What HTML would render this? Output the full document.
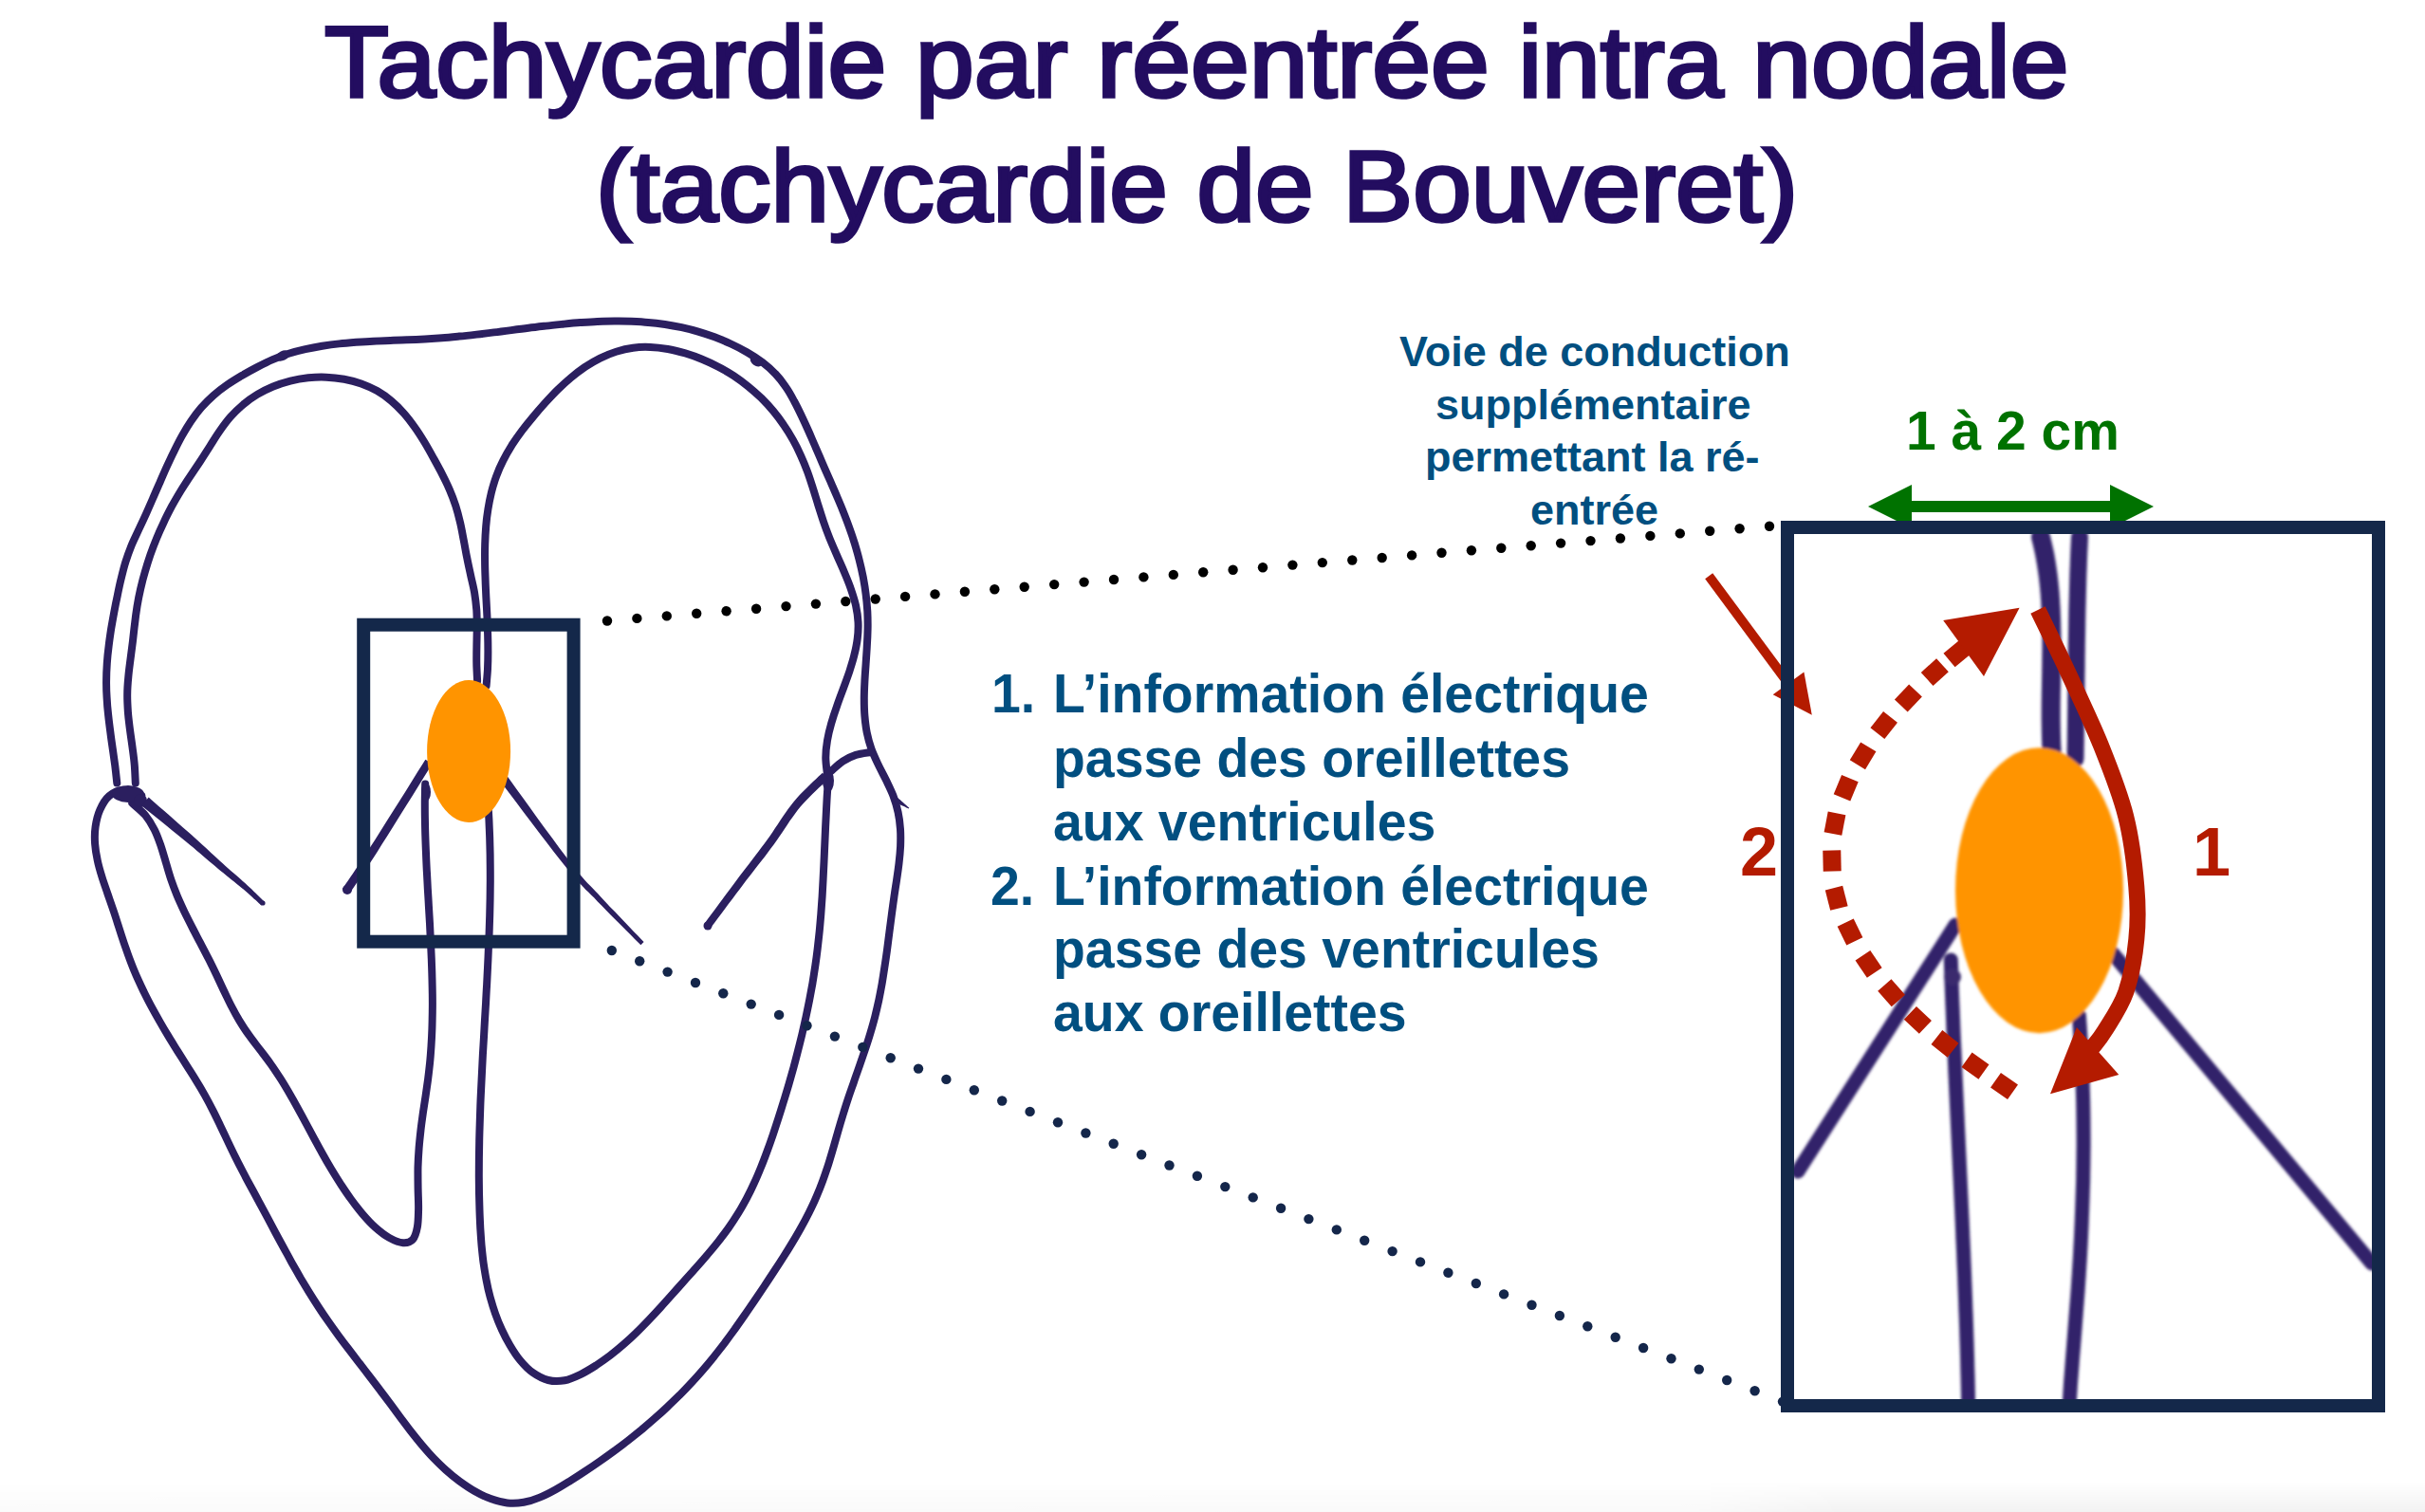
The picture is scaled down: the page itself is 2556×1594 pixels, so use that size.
<!DOCTYPE html>
<html><head><meta charset="utf-8">
<style>
html,body{margin:0;padding:0;background:#fff;}
body{width:2556px;height:1594px;position:relative;overflow:hidden;font-family:"Liberation Sans",sans-serif;font-weight:bold;}
.t{position:absolute;white-space:nowrap;line-height:1;transform-origin:0 0;}
.ttl{color:#230d60;font-size:106px;font-weight:normal;-webkit-text-stroke:3.6px #230d60;}
.lbl{color:#014f80;font-size:45px;}
.lst{color:#014f80;font-size:58px;transform:scaleX(0.955);}
.red{color:#b41b00;font-size:72px;}
.grn{color:#007200;font-size:57px;}
svg{position:absolute;left:0;top:0;}
</style></head>
<body>
<svg width="2556" height="1594" viewBox="0 0 2556 1594">
<defs><filter id="bl" x="-20%" y="-20%" width="140%" height="140%"><feGaussianBlur stdDeviation="1.8"/></filter>
<linearGradient id="bg" x1="0" y1="0" x2="0" y2="1"><stop offset="0" stop-color="#000" stop-opacity="0"/><stop offset="1" stop-color="#000" stop-opacity="0.05"/></linearGradient><linearGradient id="hm" x1="0" y1="0" x2="1" y2="0"><stop offset="0" stop-color="#fff" stop-opacity="0.35"/><stop offset="0.7" stop-color="#fff" stop-opacity="0.45"/><stop offset="0.76" stop-color="#fff" stop-opacity="1"/><stop offset="1" stop-color="#fff" stop-opacity="1"/></linearGradient><mask id="mk"><rect x="0" y="1500" width="2556" height="94" fill="url(#hm)"/></mask></defs>
<rect x="0" y="1562" width="2556" height="32" fill="url(#bg)" mask="url(#mk)"/>
<g fill="none" stroke="#2b1f5f" stroke-width="8.0" stroke-linecap="round" stroke-linejoin="round"><path d="M123.3 825.5 C123.0 822.5 122.0 813.5 121.3 807.5 C120.5 801.6 119.6 795.6 118.8 789.6 C117.9 783.5 117.0 777.5 116.3 771.5 C115.5 765.5 114.7 759.5 114.1 753.5 C113.4 747.5 112.9 741.5 112.6 735.5 C112.2 729.4 112.0 723.4 112.1 717.4 C112.1 711.4 112.4 705.3 112.8 699.3 C113.2 693.3 113.8 687.2 114.6 681.2 C115.3 675.2 116.2 669.2 117.1 663.2 C118.1 657.2 119.2 651.2 120.3 645.2 C121.4 639.2 122.6 633.2 123.9 627.3 C125.1 621.4 126.3 615.5 127.8 609.6 C129.2 603.7 130.6 597.9 132.4 592.2 C134.2 586.4 136.3 580.7 138.5 575.2 C140.8 569.6 143.6 564.1 146.1 558.6 C148.7 553.1 151.3 547.6 153.8 542.1 C156.3 536.5 158.7 531.0 161.1 525.5 C163.6 519.9 165.9 514.3 168.4 508.8 C170.8 503.3 173.2 497.7 175.7 492.2 C178.2 486.7 180.8 481.1 183.5 475.7 C186.2 470.2 188.9 464.7 191.9 459.4 C194.8 454.2 197.9 448.9 201.3 443.9 C204.7 439.0 208.3 434.1 212.2 429.6 C216.2 425.1 220.4 420.9 224.9 416.9 C229.5 412.9 234.3 409.3 239.3 405.8 C244.3 402.3 249.6 399.1 254.8 396.0 C260.1 392.9 265.5 389.9 270.9 387.1 C276.3 384.3 281.7 381.5 287.3 379.1 C292.9 376.8 298.6 374.6 304.3 372.8 C310.1 371.0 316.1 369.5 321.9 368.2 C327.8 366.9 333.7 365.8 339.6 364.8 C345.6 363.9 351.5 363.1 357.5 362.4 C363.4 361.8 369.4 361.3 375.4 360.8 C381.3 360.4 387.3 360.0 393.3 359.7 C399.4 359.4 405.4 359.2 411.4 359.0 C417.4 358.7 423.5 358.5 429.5 358.3 C435.6 358.0 441.6 357.8 447.7 357.5 C453.7 357.1 459.8 356.7 465.9 356.3 C472.0 355.8 478.0 355.2 484.1 354.6 C490.2 354.0 496.3 353.3 502.4 352.6 C508.5 351.9 514.5 351.2 520.6 350.4 C526.7 349.7 532.8 348.9 538.9 348.1 C545.0 347.3 551.1 346.5 557.1 345.8 C563.2 345.0 569.3 344.3 575.3 343.6 C581.4 342.9 587.5 342.3 593.5 341.7 C599.6 341.1 605.6 340.5 611.6 340.1 C617.7 339.7 623.7 339.3 629.7 339.0 C635.7 338.8 641.7 338.6 647.6 338.6 C653.6 338.5 659.6 338.6 665.5 338.8 C671.5 339.1 677.4 339.4 683.3 340.0 C689.2 340.5 695.1 341.2 701.0 342.0 C706.8 342.9 712.7 344.0 718.5 345.2 C724.3 346.5 730.1 347.9 735.9 349.6 C741.7 351.3 747.4 353.2 753.2 355.3 C758.9 357.5 764.6 359.8 770.3 362.5 C775.9 365.1 781.7 368.0 787.2 371.2 C792.7 374.4 798.3 377.9 803.3 381.6 C808.2 385.4 813.0 389.5 817.1 393.9 C821.3 398.2 824.8 402.9 828.1 407.8 C831.5 412.6 834.3 417.7 837.1 423.0 C840.0 428.2 842.5 433.5 845.1 439.0 C847.7 444.4 850.2 449.9 852.7 455.5 C855.1 461.0 857.5 466.7 860.0 472.3 C862.4 477.9 864.8 483.5 867.2 489.1 C869.6 494.7 872.1 500.3 874.6 505.9 C877.0 511.5 879.5 517.0 881.8 522.6 C884.2 528.2 886.6 533.7 888.8 539.4 C891.0 545.0 893.2 550.6 895.2 556.3 C897.3 562.0 899.2 567.7 901.0 573.5 C902.7 579.2 904.4 585.0 905.8 590.9 C907.3 596.7 908.6 602.6 909.8 608.5 C910.9 614.4 911.9 620.4 912.6 626.4 C913.4 632.4 913.9 638.4 914.3 644.5 C914.6 650.6 914.7 656.7 914.6 662.8 C914.5 669.0 914.2 675.1 913.8 681.3 C913.5 687.5 913.0 693.7 912.6 699.9 C912.2 706.0 911.7 712.2 911.4 718.3 C911.1 724.5 910.8 730.6 910.8 736.6 C910.8 742.7 910.9 748.7 911.4 754.7 C911.9 760.6 912.6 766.5 913.7 772.3 C914.9 778.1 916.4 783.8 918.4 789.4 C920.4 795.0 923.0 800.4 925.6 805.9 C928.2 811.4 931.2 816.8 933.9 822.3 C936.5 827.8 939.3 833.3 941.5 839.0 C943.6 844.7 945.4 850.6 946.6 856.4 C947.9 862.3 948.6 868.3 949.0 874.3 C949.4 880.2 949.3 886.2 949.1 892.2 C948.8 898.2 948.2 904.2 947.5 910.2 C946.8 916.3 945.9 922.3 945.0 928.3 C944.1 934.4 943.1 940.4 942.3 946.4 C941.4 952.5 940.6 958.5 939.8 964.6 C939.0 970.6 938.2 976.6 937.4 982.7 C936.6 988.7 935.9 994.7 935.1 1000.7 C934.3 1006.8 933.4 1012.8 932.5 1018.7 C931.6 1024.7 930.7 1030.7 929.7 1036.6 C928.6 1042.6 927.5 1048.5 926.3 1054.4 C925.0 1060.3 923.7 1066.1 922.2 1071.9 C920.7 1077.8 919.0 1083.6 917.3 1089.3 C915.6 1095.1 913.7 1100.9 911.8 1106.6 C909.9 1112.3 907.9 1118.0 905.9 1123.8 C903.9 1129.5 901.8 1135.2 899.9 1140.9 C897.9 1146.7 895.8 1152.4 893.9 1158.2 C892.0 1163.9 890.2 1169.7 888.4 1175.6 C886.6 1181.4 884.9 1187.2 883.2 1193.1 C881.6 1198.9 879.9 1204.8 878.2 1210.6 C876.5 1216.4 874.8 1222.2 873.0 1228.0 C871.1 1233.7 869.2 1239.4 867.1 1245.1 C865.1 1250.7 862.8 1256.3 860.4 1261.8 C858.1 1267.4 855.5 1272.8 852.8 1278.2 C850.1 1283.6 847.3 1288.9 844.3 1294.2 C841.4 1299.5 838.3 1304.7 835.2 1309.9 C832.1 1315.1 828.9 1320.3 825.6 1325.4 C822.3 1330.6 819.0 1335.7 815.6 1340.8 C812.3 1345.9 808.9 1351.0 805.5 1356.1 C802.1 1361.1 798.7 1366.2 795.3 1371.3 C791.8 1376.4 788.4 1381.4 784.9 1386.4 C781.4 1391.4 777.9 1396.4 774.4 1401.4 C770.8 1406.3 767.2 1411.2 763.6 1416.1 C759.9 1420.9 756.2 1425.7 752.4 1430.4 C748.6 1435.1 744.8 1439.7 740.8 1444.3 C736.9 1448.8 732.9 1453.3 728.8 1457.7 C724.7 1462.1 720.6 1466.4 716.4 1470.7 C712.1 1474.9 707.8 1479.1 703.4 1483.2 C699.1 1487.3 694.6 1491.4 690.1 1495.3 C685.6 1499.3 681.0 1503.2 676.4 1507.1 C671.7 1510.9 667.0 1514.7 662.2 1518.5 C657.4 1522.2 652.5 1525.9 647.6 1529.5 C642.7 1533.1 637.7 1536.7 632.6 1540.2 C627.6 1543.7 622.5 1547.2 617.3 1550.6 C612.1 1554.1 606.8 1557.5 601.5 1560.8 C596.2 1564.1 590.9 1567.5 585.4 1570.5 C580.0 1573.5 574.5 1576.4 568.9 1578.6 C563.4 1580.9 557.7 1582.8 552.0 1583.8 C546.3 1584.7 540.5 1585.0 534.7 1584.4 C528.9 1583.8 523.0 1582.1 517.3 1580.1 C511.5 1578.0 505.7 1575.1 500.2 1572.0 C494.7 1568.9 489.4 1565.2 484.3 1561.5 C479.2 1557.8 474.5 1553.8 469.9 1549.7 C465.3 1545.6 461.0 1541.3 456.8 1537.0 C452.6 1532.6 448.6 1528.0 444.7 1523.4 C440.8 1518.8 437.0 1514.0 433.3 1509.3 C429.6 1504.5 426.0 1499.6 422.4 1494.8 C418.8 1490.0 415.2 1485.1 411.6 1480.2 C408.0 1475.3 404.4 1470.5 400.7 1465.7 C397.1 1460.8 393.4 1456.0 389.7 1451.2 C386.0 1446.4 382.3 1441.6 378.6 1436.8 C374.9 1432.0 371.2 1427.2 367.5 1422.3 C363.8 1417.5 360.2 1412.7 356.6 1407.8 C353.0 1402.9 349.5 1398.0 346.0 1393.0 C342.5 1388.1 339.1 1383.1 335.8 1378.0 C332.5 1373.0 329.2 1367.9 326.0 1362.7 C322.9 1357.6 319.8 1352.4 316.7 1347.2 C313.7 1341.9 310.7 1336.7 307.7 1331.4 C304.8 1326.1 301.9 1320.8 299.0 1315.5 C296.1 1310.2 293.2 1304.8 290.3 1299.5 C287.5 1294.1 284.7 1288.8 281.8 1283.4 C279.0 1278.1 276.1 1272.8 273.2 1267.5 C270.4 1262.1 267.5 1256.8 264.6 1251.5 C261.7 1246.2 258.9 1240.9 256.1 1235.5 C253.3 1230.2 250.5 1224.8 247.8 1219.3 C245.1 1213.9 242.5 1208.4 239.9 1202.9 C237.3 1197.4 234.8 1191.9 232.1 1186.4 C229.5 1181.0 226.9 1175.5 224.1 1170.1 C221.4 1164.7 218.6 1159.4 215.6 1154.1 C212.7 1148.9 209.6 1143.7 206.4 1138.6 C203.3 1133.5 200.0 1128.4 196.8 1123.3 C193.6 1118.2 190.3 1113.1 187.1 1108.0 C183.9 1102.8 180.6 1097.6 177.5 1092.4 C174.3 1087.2 171.2 1081.9 168.2 1076.6 C165.2 1071.3 162.2 1066.0 159.3 1060.6 C156.4 1055.3 153.7 1049.8 151.0 1044.4 C148.4 1038.9 145.8 1033.4 143.4 1027.9 C141.0 1022.4 138.8 1016.8 136.7 1011.2 C134.6 1005.6 132.7 999.9 130.7 994.2 C128.8 988.5 127.0 982.8 125.1 977.1 C123.3 971.4 121.5 965.6 119.5 959.8 C117.6 954.0 115.5 948.2 113.5 942.4 C111.6 936.6 109.4 930.8 107.6 924.9 C105.8 919.1 104.0 913.2 102.8 907.3 C101.5 901.4 100.5 895.5 100.1 889.5 C99.7 883.5 99.7 877.5 100.6 871.5 C101.5 865.5 103.0 859.0 105.4 853.6 C107.8 848.2 111.0 842.6 115.1 839.1 C119.3 835.6 124.5 832.7 130.2 832.7 C135.9 832.6 146.1 837.8 149.3 838.8"/><path d="M142.8 825.5 C142.6 822.4 142.3 813.1 141.8 806.9 C141.3 800.6 140.4 794.4 139.6 788.2 C138.8 782.0 137.8 775.8 137.0 769.6 C136.2 763.4 135.4 757.2 134.9 750.9 C134.5 744.7 134.1 738.5 134.2 732.3 C134.2 726.1 134.7 719.9 135.3 713.7 C135.8 707.5 136.7 701.3 137.5 695.1 C138.3 688.9 139.1 682.7 139.9 676.5 C140.6 670.3 141.2 664.1 142.0 657.9 C142.7 651.7 143.5 645.5 144.5 639.3 C145.5 633.2 146.7 627.1 148.1 621.0 C149.5 614.9 151.0 608.9 152.8 602.9 C154.5 596.9 156.4 590.9 158.4 585.0 C160.5 579.1 162.7 573.3 165.1 567.5 C167.4 561.7 170.0 556.0 172.7 550.4 C175.3 544.8 178.2 539.2 181.1 533.7 C184.1 528.2 187.3 522.8 190.5 517.5 C193.8 512.2 197.2 507.0 200.7 501.8 C204.1 496.6 207.7 491.4 211.1 486.2 C214.6 481.0 217.9 475.6 221.3 470.3 C224.7 465.0 227.9 459.6 231.5 454.5 C235.1 449.4 238.7 444.3 242.8 439.7 C246.9 435.1 251.3 430.7 256.1 426.7 C260.8 422.7 265.8 419.1 271.1 415.9 C276.4 412.7 282.1 409.9 287.9 407.5 C293.7 405.1 299.8 403.2 306.0 401.6 C312.1 400.1 318.5 399.0 324.8 398.3 C331.1 397.7 337.5 397.4 343.8 397.7 C350.2 397.9 356.5 398.6 362.7 399.7 C368.8 400.8 374.9 402.4 380.7 404.5 C386.5 406.6 392.2 409.1 397.5 412.1 C402.7 415.1 407.8 418.7 412.4 422.6 C417.1 426.5 421.5 431.0 425.6 435.6 C429.7 440.2 433.5 445.3 437.2 450.5 C440.9 455.6 444.3 461.1 447.6 466.5 C450.9 472.0 454.0 477.6 457.0 483.1 C460.1 488.7 463.1 494.1 465.9 499.6 C468.7 505.1 471.4 510.5 473.8 516.1 C476.2 521.7 478.4 527.4 480.3 533.2 C482.2 539.1 483.7 545.1 485.1 551.2 C486.5 557.3 487.6 563.6 488.8 569.8 C490.0 576.0 491.0 582.2 492.3 588.4 C493.5 594.6 494.9 600.7 496.2 606.8 C497.5 612.9 499.1 618.8 500.1 624.9 C501.1 631.0 501.8 637.1 502.3 643.2 C502.7 649.3 502.7 655.5 502.7 661.8 C502.7 668.0 502.5 674.2 502.4 680.5 C502.3 686.7 502.2 693.0 502.3 699.3 C502.4 705.5 503.0 714.9 503.1 718.0"/><path d="M512.6 723.0 C512.8 720.0 513.7 711.1 514.0 705.1 C514.3 699.0 514.4 692.9 514.4 686.7 C514.4 680.6 514.3 674.4 514.1 668.1 C513.9 661.9 513.6 655.6 513.4 649.3 C513.1 643.0 512.7 636.6 512.4 630.3 C512.1 624.0 511.8 617.7 511.6 611.3 C511.4 605.0 511.1 598.7 511.1 592.4 C511.0 586.1 511.0 579.9 511.2 573.6 C511.4 567.4 511.7 561.2 512.2 555.1 C512.7 549.0 513.4 542.9 514.4 536.9 C515.3 530.9 516.5 525.0 517.9 519.2 C519.4 513.3 521.1 507.6 523.2 501.9 C525.2 496.3 527.6 490.7 530.4 485.3 C533.1 479.9 536.2 474.6 539.5 469.3 C542.9 464.1 546.5 459.0 550.3 453.9 C554.1 448.9 558.1 444.0 562.2 439.1 C566.3 434.2 570.5 429.4 574.7 424.7 C579.0 420.0 583.3 415.3 587.8 410.9 C592.3 406.5 596.9 402.2 601.7 398.2 C606.5 394.2 611.5 390.4 616.6 386.9 C621.8 383.5 627.1 380.3 632.6 377.6 C638.1 374.9 643.7 372.5 649.5 370.7 C655.3 368.9 661.2 367.5 667.2 366.7 C673.2 365.9 679.3 365.7 685.5 366.0 C691.6 366.2 697.8 367.0 703.9 368.0 C710.1 369.1 716.2 370.7 722.3 372.4 C728.3 374.2 734.2 376.3 740.0 378.7 C745.8 381.1 751.6 383.7 757.1 386.7 C762.7 389.6 768.1 392.8 773.3 396.2 C778.5 399.7 783.6 403.4 788.5 407.3 C793.3 411.2 798.0 415.4 802.5 419.7 C806.9 424.1 811.1 428.6 815.1 433.4 C819.0 438.1 822.8 443.1 826.2 448.2 C829.7 453.2 832.9 458.5 835.9 463.9 C838.9 469.2 841.6 474.7 844.1 480.3 C846.6 485.8 848.9 491.5 851.0 497.2 C853.1 502.9 854.9 508.6 856.8 514.4 C858.7 520.2 860.4 526.1 862.2 532.0 C864.1 537.8 865.9 543.8 867.9 549.7 C869.9 555.6 872.1 561.5 874.4 567.4 C876.8 573.3 879.4 579.2 882.0 585.1 C884.5 591.0 887.3 596.9 889.7 602.8 C892.2 608.7 894.7 614.6 896.7 620.5 C898.7 626.4 900.7 632.3 902.0 638.1 C903.3 644.0 904.2 649.9 904.5 655.8 C904.8 661.7 904.5 667.6 903.7 673.6 C903.0 679.5 901.7 685.4 900.2 691.3 C898.8 697.2 896.8 703.1 894.9 709.1 C892.9 715.0 890.6 721.0 888.5 726.9 C886.3 732.8 884.0 738.8 882.0 744.8 C879.9 750.7 877.9 756.7 876.2 762.7 C874.5 768.6 873.0 774.6 872.0 780.6 C871.0 786.6 870.3 792.6 870.3 798.7 C870.3 804.7 871.7 813.7 872.0 816.7"/><path d="M876.0 813.0 C878.0 811.3 883.9 805.4 888.2 802.6 C892.6 799.7 897.2 797.5 902.1 795.9 C907.0 794.3 915.0 793.5 917.6 793.0"/><path d="M873.3 817.1 C873.1 820.1 872.4 829.2 872.0 835.2 C871.6 841.3 871.3 847.3 871.0 853.4 C870.7 859.5 870.4 865.6 870.1 871.7 C869.8 877.8 869.6 883.9 869.3 890.1 C869.0 896.2 868.8 902.3 868.5 908.4 C868.2 914.6 867.9 920.7 867.6 926.8 C867.3 933.0 866.9 939.1 866.6 945.2 C866.2 951.3 865.7 957.5 865.3 963.6 C864.8 969.7 864.3 975.8 863.7 981.9 C863.1 987.9 862.4 994.0 861.7 1000.1 C861.0 1006.1 860.2 1012.2 859.3 1018.2 C858.4 1024.2 857.5 1030.2 856.5 1036.2 C855.4 1042.2 854.3 1048.2 853.2 1054.1 C852.0 1060.1 850.8 1066.0 849.5 1072.0 C848.2 1077.9 846.9 1083.8 845.5 1089.8 C844.1 1095.7 842.6 1101.6 841.1 1107.5 C839.6 1113.4 838.1 1119.3 836.5 1125.2 C834.8 1131.0 833.2 1136.9 831.5 1142.8 C829.8 1148.7 828.0 1154.5 826.2 1160.4 C824.4 1166.3 822.6 1172.1 820.7 1178.0 C818.8 1183.8 816.9 1189.7 815.0 1195.5 C813.0 1201.4 811.0 1207.2 808.8 1213.0 C806.7 1218.8 804.6 1224.5 802.2 1230.2 C799.9 1235.9 797.6 1241.5 795.0 1247.0 C792.5 1252.6 789.8 1258.1 787.0 1263.4 C784.1 1268.8 781.2 1274.1 778.0 1279.2 C774.8 1284.4 771.5 1289.4 768.0 1294.4 C764.5 1299.3 760.8 1304.1 757.1 1308.9 C753.3 1313.7 749.4 1318.4 745.4 1323.0 C741.5 1327.7 737.4 1332.3 733.3 1336.9 C729.3 1341.5 725.1 1346.0 721.0 1350.6 C716.9 1355.2 712.8 1359.8 708.7 1364.4 C704.6 1369.0 700.5 1373.6 696.3 1378.2 C692.2 1382.7 688.0 1387.2 683.7 1391.7 C679.5 1396.1 675.2 1400.5 670.8 1404.8 C666.4 1409.1 661.9 1413.2 657.3 1417.3 C652.7 1421.3 648.0 1425.2 643.2 1428.9 C638.3 1432.6 633.3 1436.1 628.2 1439.5 C623.0 1442.8 617.7 1446.1 612.2 1448.8 C606.7 1451.4 600.9 1454.2 595.2 1455.3 C589.5 1456.3 583.5 1456.4 577.8 1455.0 C572.2 1453.6 566.5 1450.6 561.6 1447.1 C556.6 1443.6 552.2 1438.8 548.2 1434.0 C544.2 1429.2 540.7 1423.6 537.5 1418.2 C534.3 1412.8 531.5 1407.3 528.9 1401.7 C526.3 1396.1 524.0 1390.4 522.0 1384.7 C519.9 1378.9 518.2 1373.1 516.6 1367.3 C515.0 1361.4 513.7 1355.5 512.6 1349.5 C511.4 1343.5 510.5 1337.5 509.6 1331.5 C508.8 1325.4 508.2 1319.4 507.6 1313.3 C507.1 1307.2 506.7 1301.0 506.3 1294.9 C506.0 1288.8 505.7 1282.7 505.5 1276.5 C505.3 1270.4 505.2 1264.3 505.0 1258.2 C504.9 1252.1 504.9 1245.9 504.8 1239.8 C504.8 1233.7 504.9 1227.6 504.9 1221.5 C505.0 1215.3 505.1 1209.2 505.2 1203.1 C505.3 1197.0 505.5 1190.9 505.7 1184.8 C505.9 1178.7 506.1 1172.6 506.3 1166.5 C506.5 1160.4 506.8 1154.3 507.1 1148.2 C507.4 1142.1 507.7 1136.0 508.0 1129.9 C508.3 1123.8 508.6 1117.7 508.9 1111.6 C509.3 1105.5 509.6 1099.4 510.0 1093.3 C510.3 1087.2 510.7 1081.1 511.0 1075.0 C511.4 1068.9 511.7 1062.8 512.1 1056.7 C512.4 1050.6 512.7 1044.5 513.1 1038.4 C513.4 1032.3 513.7 1026.2 514.0 1020.1 C514.3 1014.0 514.6 1007.9 514.8 1001.8 C515.1 995.7 515.4 989.6 515.6 983.5 C515.8 977.4 516.0 971.4 516.2 965.2 C516.3 959.1 516.5 953.0 516.6 946.9 C516.7 940.8 516.7 934.7 516.8 928.6 C516.8 922.5 516.8 916.4 516.7 910.3 C516.7 904.2 516.6 898.1 516.4 892.0 C516.3 885.9 516.1 879.8 515.8 873.6 C515.6 867.5 515.1 858.3 514.9 855.3"/><path d="M139.3 846.7 C141.6 848.9 149.3 854.9 153.2 859.5 C157.1 864.2 160.1 869.4 162.8 874.8 C165.5 880.1 167.5 885.9 169.5 891.6 C171.5 897.4 173.1 903.4 174.9 909.4 C176.7 915.3 178.3 921.3 180.3 927.2 C182.3 933.0 184.5 938.8 186.8 944.5 C189.2 950.2 191.8 955.8 194.4 961.4 C197.1 966.9 199.9 972.4 202.7 977.9 C205.5 983.4 208.4 988.8 211.2 994.2 C214.1 999.7 217.0 1005.1 219.7 1010.6 C222.5 1016.0 225.2 1021.5 227.8 1027.0 C230.4 1032.5 232.9 1038.0 235.5 1043.5 C238.2 1049.0 240.7 1054.5 243.5 1060.0 C246.3 1065.4 249.2 1070.8 252.4 1076.1 C255.6 1081.4 259.0 1086.6 262.7 1091.7 C266.3 1096.9 270.4 1101.8 274.2 1106.9 C278.0 1111.9 281.9 1116.9 285.5 1122.0 C289.1 1127.0 292.4 1132.1 295.7 1137.2 C299.0 1142.3 302.0 1147.5 305.1 1152.7 C308.1 1157.8 311.0 1163.0 313.9 1168.3 C316.8 1173.5 319.6 1178.7 322.4 1184.0 C325.2 1189.2 328.0 1194.5 330.9 1199.8 C333.8 1205.1 336.6 1210.4 339.6 1215.7 C342.6 1221.1 345.6 1226.4 348.8 1231.8 C352.0 1237.1 355.3 1242.5 358.8 1247.9 C362.3 1253.2 365.9 1258.7 369.8 1264.0 C373.7 1269.3 377.8 1274.8 382.1 1279.8 C386.4 1284.8 390.9 1289.8 395.6 1294.0 C400.2 1298.1 405.3 1302.1 410.2 1304.9 C415.1 1307.6 420.7 1310.0 424.9 1310.3 C429.1 1310.6 432.7 1309.4 435.2 1306.6 C437.7 1303.8 438.9 1299.0 439.9 1293.6 C440.9 1288.3 440.9 1281.4 441.1 1274.6 C441.2 1267.7 440.7 1259.9 440.6 1252.6 C440.5 1245.3 440.4 1237.8 440.5 1230.7 C440.7 1223.7 441.1 1217.0 441.6 1210.4 C442.1 1203.8 442.8 1197.5 443.5 1191.2 C444.2 1185.0 445.1 1179.0 445.9 1173.0 C446.8 1167.0 447.7 1161.2 448.6 1155.4 C449.4 1149.5 450.3 1143.8 451.1 1137.9 C451.8 1132.1 452.5 1126.3 453.1 1120.4 C453.7 1114.6 454.1 1108.6 454.5 1102.7 C454.9 1096.7 455.2 1090.7 455.4 1084.7 C455.6 1078.7 455.7 1072.6 455.8 1066.5 C455.9 1060.5 455.9 1054.3 455.8 1048.2 C455.7 1042.1 455.6 1035.9 455.4 1029.7 C455.3 1023.6 455.0 1017.4 454.8 1011.2 C454.5 1005.0 454.3 998.8 453.9 992.5 C453.6 986.3 453.3 980.1 453.0 973.8 C452.6 967.6 452.3 961.4 451.9 955.2 C451.6 948.9 451.2 942.7 450.8 936.5 C450.5 930.3 450.2 924.0 449.8 917.8 C449.5 911.6 449.2 905.4 449.0 899.3 C448.7 893.1 448.5 887.0 448.3 880.8 C448.1 874.7 448.0 868.6 447.9 862.5 C447.8 856.4 447.8 850.4 447.8 844.4 C447.9 838.3 448.1 829.4 448.2 826.4"/></g>
<g fill="#2b1f5f"><ellipse cx="135" cy="837" rx="17" ry="9"/><circle cx="148" cy="844" r="7"/><ellipse cx="873" cy="823" rx="6" ry="12"/><ellipse cx="449" cy="835" rx="5" ry="10"/><circle cx="277" cy="952" r="2.6"/><circle cx="366" cy="938" r="5"/><circle cx="746" cy="976" r="4.5"/><ellipse cx="298" cy="375" rx="8" ry="5" transform="rotate(-25 298 375)"/><ellipse cx="797" cy="381" rx="7" ry="4.5" transform="rotate(35 797 381)"/><path d="M149.3 849.4 L152.1 851.7 L155.9 854.7 L160.3 858.3 L165.3 862.3 L170.6 866.6 L176.1 871.0 L181.5 875.4 L186.8 879.7 L191.7 883.7 L196.0 887.3 L199.9 890.5 L203.7 893.6 L207.3 896.7 L210.7 899.6 L214.1 902.4 L217.3 905.2 L220.5 907.9 L223.6 910.5 L226.6 913.1 L229.7 915.7 L232.7 918.2 L235.7 920.6 L238.6 923.0 L241.4 925.2 L244.1 927.4 L246.8 929.6 L249.4 931.7 L251.9 933.7 L254.3 935.7 L256.6 937.6 L258.9 939.6 L261.2 941.6 L263.4 943.6 L265.6 945.5 L267.6 947.4 L269.6 949.1 L271.4 950.8 L272.9 952.2 L274.3 953.4 L275.4 954.4 L278.8 950.8 L277.8 949.8 L276.5 948.5 L275.0 947.0 L273.2 945.3 L271.4 943.4 L269.4 941.5 L267.2 939.4 L265.1 937.3 L262.8 935.2 L260.6 933.2 L258.3 931.1 L255.9 929.0 L253.5 926.8 L251.0 924.6 L248.4 922.3 L245.7 920.0 L243.0 917.7 L240.2 915.2 L237.4 912.7 L234.5 910.1 L231.6 907.5 L228.7 904.8 L225.7 902.0 L222.6 899.2 L219.5 896.3 L216.3 893.3 L212.9 890.2 L209.4 887.1 L205.8 883.8 L202.0 880.3 L197.7 876.6 L193.0 872.4 L187.9 867.9 L182.6 863.2 L177.3 858.6 L172.1 854.1 L167.3 849.9 L163.1 846.2 L159.4 843.0 L156.7 840.6Z"/><path d="M448.4 800.7 L444.8 806.5 L440.0 814.1 L434.3 823.2 L428.0 833.4 L421.2 844.2 L414.2 855.2 L407.4 866.1 L401.0 876.3 L395.2 885.4 L390.3 893.1 L386.0 899.7 L382.1 905.7 L378.4 911.2 L375.0 916.3 L371.9 920.9 L369.1 925.0 L366.6 928.7 L364.3 931.9 L362.4 934.8 L360.8 937.2 L368.2 942.2 L369.8 939.8 L371.8 937.0 L374.0 933.7 L376.5 930.0 L379.3 925.9 L382.4 921.3 L385.8 916.2 L389.5 910.6 L393.5 904.5 L397.7 897.9 L402.6 890.1 L408.4 880.9 L414.8 870.7 L421.6 859.8 L428.5 848.8 L435.3 837.9 L441.6 827.7 L447.3 818.6 L452.0 811.0 L455.6 805.3Z"/><path d="M527.4 823.7 L531.6 829.3 L537.3 836.8 L544.1 845.8 L551.7 855.9 L559.7 866.6 L568.0 877.5 L576.1 888.1 L583.7 898.0 L590.6 906.8 L596.4 914.1 L601.1 919.9 L605.2 924.7 L608.7 928.7 L611.8 932.1 L614.7 935.1 L617.4 937.9 L620.2 940.6 L623.1 943.5 L626.3 946.6 L629.9 950.4 L634.2 954.8 L639.0 959.7 L644.1 964.9 L649.4 970.3 L654.7 975.6 L659.9 980.8 L664.7 985.6 L669.0 989.9 L672.6 993.5 L675.4 996.3 L678.6 993.1 L675.9 990.3 L672.4 986.6 L668.1 982.2 L663.4 977.3 L658.4 972.1 L653.2 966.6 L648.0 961.1 L642.9 955.9 L638.3 950.9 L634.1 946.4 L630.5 942.6 L627.3 939.3 L624.5 936.3 L621.8 933.6 L619.2 930.9 L616.5 927.9 L613.5 924.5 L610.1 920.5 L606.2 915.7 L601.6 909.9 L596.1 902.6 L589.4 893.7 L582.0 883.6 L574.1 872.9 L566.1 861.9 L558.3 851.0 L550.9 840.8 L544.3 831.7 L538.8 824.0 L534.6 818.3Z"/><path d="M866.9 814.8 L865.1 816.5 L862.8 818.6 L860.1 821.2 L857.0 824.1 L853.7 827.3 L850.2 830.7 L846.6 834.2 L843.1 837.8 L839.8 841.5 L836.6 845.2 L833.7 848.9 L830.8 852.8 L828.0 856.7 L825.2 860.7 L822.5 864.8 L819.8 869.0 L817.0 873.1 L814.3 877.3 L811.4 881.4 L808.5 885.5 L805.6 889.6 L802.5 893.6 L799.4 897.7 L796.3 901.8 L793.1 906.0 L789.9 910.2 L786.6 914.4 L783.3 918.7 L780.0 923.1 L776.7 927.5 L773.2 932.2 L769.3 937.4 L765.3 942.8 L761.3 948.3 L757.2 953.7 L753.4 958.9 L749.8 963.8 L746.6 968.1 L743.9 971.8 L741.8 974.6 L748.2 979.4 L750.3 976.6 L753.0 972.9 L756.3 968.6 L759.9 963.8 L763.8 958.5 L767.8 953.1 L771.9 947.7 L775.9 942.3 L779.8 937.2 L783.3 932.5 L786.6 928.1 L790.0 923.8 L793.3 919.5 L796.5 915.3 L799.8 911.1 L803.0 907.0 L806.2 902.9 L809.3 898.8 L812.4 894.6 L815.5 890.5 L818.5 886.3 L821.4 882.1 L824.2 877.9 L827.0 873.8 L829.7 869.7 L832.4 865.6 L835.2 861.7 L837.9 857.9 L840.6 854.3 L843.4 850.8 L846.3 847.4 L849.6 843.9 L853.0 840.4 L856.4 837.0 L859.8 833.7 L863.1 830.6 L866.2 827.8 L869.0 825.2 L871.3 823.0 L873.1 821.2Z"/><path d="M942.4 845.5 L943.4 846.0 L944.7 846.6 L946.3 847.3 L948.2 848.1 L950.1 849.0 L952.0 849.8 L953.8 850.6 L955.4 851.4 L956.7 852.0 L957.7 852.4 L958.3 851.6 L957.5 850.9 L956.3 849.9 L955.0 848.7 L953.5 847.4 L951.9 846.0 L950.4 844.7 L948.9 843.3 L947.5 842.2 L946.4 841.2 L945.6 840.5Z"/></g>
<ellipse cx="494.1" cy="792" rx="44" ry="75" fill="#ff9400"/>
<rect x="383.2" y="658.7" width="221.4" height="334" fill="none" stroke="#14284a" stroke-width="14"/>
<g fill="#000"><circle cx="640.0" cy="654.5" r="5.2"/><circle cx="671.4" cy="651.9" r="5.2"/><circle cx="702.8" cy="649.4" r="5.2"/><circle cx="734.2" cy="646.8" r="5.2"/><circle cx="765.6" cy="644.3" r="5.2"/><circle cx="797.1" cy="641.7" r="5.2"/><circle cx="828.5" cy="639.1" r="5.2"/><circle cx="859.9" cy="636.6" r="5.2"/><circle cx="891.3" cy="634.0" r="5.2"/><circle cx="922.7" cy="631.5" r="5.2"/><circle cx="954.1" cy="628.9" r="5.2"/><circle cx="985.5" cy="626.4" r="5.2"/><circle cx="1016.9" cy="623.8" r="5.2"/><circle cx="1048.3" cy="621.2" r="5.2"/><circle cx="1079.7" cy="618.7" r="5.2"/><circle cx="1111.2" cy="616.1" r="5.2"/><circle cx="1142.6" cy="613.6" r="5.2"/><circle cx="1174.0" cy="611.0" r="5.2"/><circle cx="1205.4" cy="608.4" r="5.2"/><circle cx="1236.8" cy="605.9" r="5.2"/><circle cx="1268.2" cy="603.3" r="5.2"/><circle cx="1299.6" cy="600.8" r="5.2"/><circle cx="1331.0" cy="598.2" r="5.2"/><circle cx="1362.4" cy="595.6" r="5.2"/><circle cx="1393.8" cy="593.1" r="5.2"/><circle cx="1425.3" cy="590.5" r="5.2"/><circle cx="1456.7" cy="588.0" r="5.2"/><circle cx="1488.1" cy="585.4" r="5.2"/><circle cx="1519.5" cy="582.8" r="5.2"/><circle cx="1550.9" cy="580.3" r="5.2"/><circle cx="1582.3" cy="577.7" r="5.2"/><circle cx="1613.7" cy="575.2" r="5.2"/><circle cx="1645.1" cy="572.6" r="5.2"/><circle cx="1676.5" cy="570.1" r="5.2"/><circle cx="1707.9" cy="567.5" r="5.2"/><circle cx="1739.4" cy="564.9" r="5.2"/><circle cx="1770.8" cy="562.4" r="5.2"/><circle cx="1802.2" cy="559.8" r="5.2"/><circle cx="1833.6" cy="557.3" r="5.2"/><circle cx="1865.0" cy="554.7" r="5.2"/></g>
<g fill="#14264a"><circle cx="644.8" cy="1002.0" r="5.2"/><circle cx="674.2" cy="1013.3" r="5.2"/><circle cx="703.6" cy="1024.6" r="5.2"/><circle cx="733.0" cy="1036.0" r="5.2"/><circle cx="762.3" cy="1047.3" r="5.2"/><circle cx="791.7" cy="1058.6" r="5.2"/><circle cx="821.1" cy="1069.9" r="5.2"/><circle cx="850.5" cy="1081.3" r="5.2"/><circle cx="879.9" cy="1092.6" r="5.2"/><circle cx="909.3" cy="1103.9" r="5.2"/><circle cx="938.7" cy="1115.2" r="5.2"/><circle cx="968.0" cy="1126.6" r="5.2"/><circle cx="997.4" cy="1137.9" r="5.2"/><circle cx="1026.8" cy="1149.2" r="5.2"/><circle cx="1056.2" cy="1160.5" r="5.2"/><circle cx="1085.6" cy="1171.9" r="5.2"/><circle cx="1115.0" cy="1183.2" r="5.2"/><circle cx="1144.4" cy="1194.5" r="5.2"/><circle cx="1173.7" cy="1205.8" r="5.2"/><circle cx="1203.1" cy="1217.2" r="5.2"/><circle cx="1232.5" cy="1228.5" r="5.2"/><circle cx="1261.9" cy="1239.8" r="5.2"/><circle cx="1291.3" cy="1251.1" r="5.2"/><circle cx="1320.7" cy="1262.4" r="5.2"/><circle cx="1350.1" cy="1273.8" r="5.2"/><circle cx="1379.4" cy="1285.1" r="5.2"/><circle cx="1408.8" cy="1296.4" r="5.2"/><circle cx="1438.2" cy="1307.7" r="5.2"/><circle cx="1467.6" cy="1319.1" r="5.2"/><circle cx="1497.0" cy="1330.4" r="5.2"/><circle cx="1526.4" cy="1341.7" r="5.2"/><circle cx="1555.8" cy="1353.0" r="5.2"/><circle cx="1585.1" cy="1364.4" r="5.2"/><circle cx="1614.5" cy="1375.7" r="5.2"/><circle cx="1643.9" cy="1387.0" r="5.2"/><circle cx="1673.3" cy="1398.3" r="5.2"/><circle cx="1702.7" cy="1409.7" r="5.2"/><circle cx="1732.1" cy="1421.0" r="5.2"/><circle cx="1761.5" cy="1432.3" r="5.2"/><circle cx="1790.8" cy="1443.6" r="5.2"/><circle cx="1820.2" cy="1455.0" r="5.2"/><circle cx="1849.6" cy="1466.3" r="5.2"/><circle cx="1879.0" cy="1477.6" r="5.2"/></g>
<g filter="url(#bl)"><g fill="none" stroke="#33246a" stroke-width="15" stroke-linecap="round"><path d="M2151.0 566.0 C2151.7 569.2 2154.1 578.8 2155.3 585.2 C2156.5 591.6 2157.5 598.0 2158.4 604.5 C2159.3 610.9 2159.9 617.4 2160.5 623.9 C2161.0 630.4 2161.4 636.9 2161.7 643.4 C2162.0 649.9 2162.2 656.4 2162.3 662.9 C2162.5 669.4 2162.5 676.0 2162.5 682.5 C2162.4 689.0 2162.4 695.6 2162.3 702.1 C2162.2 708.6 2162.1 715.2 2162.0 721.7 C2161.9 728.3 2161.8 734.8 2161.7 741.3 C2161.7 747.9 2161.6 754.4 2161.7 760.9 C2161.8 767.5 2161.9 774.0 2162.1 780.5 C2162.3 787.0 2162.9 796.7 2163.1 800.0" stroke-width="20"/><path d="M2192.0 566.0 C2191.9 569.2 2191.4 579.0 2191.1 585.5 C2190.9 592.0 2190.7 598.5 2190.4 605.0 C2190.2 611.5 2190.1 618.0 2189.9 624.5 C2189.7 631.0 2189.6 637.5 2189.4 644.0 C2189.3 650.5 2189.2 657.0 2189.1 663.5 C2189.0 670.0 2188.9 676.5 2188.8 683.0 C2188.7 689.5 2188.6 696.0 2188.6 702.5 C2188.5 709.0 2188.4 715.5 2188.4 722.0 C2188.3 728.5 2188.3 735.0 2188.2 741.5 C2188.1 748.0 2188.1 754.5 2188.0 761.0 C2187.9 767.5 2187.9 774.0 2187.8 780.5 C2187.7 787.0 2187.5 796.7 2187.5 800.0" stroke-width="18"/><path d="M1895.0 1235.0 L2061.0 975.0" stroke-width="15"/><path d="M2056.3 1012.0 C2056.4 1015.2 2056.7 1024.9 2056.9 1031.4 C2057.1 1037.9 2057.4 1044.4 2057.6 1050.8 C2057.9 1057.3 2058.1 1063.8 2058.4 1070.3 C2058.6 1076.7 2058.9 1083.2 2059.1 1089.7 C2059.4 1096.1 2059.7 1102.6 2060.0 1109.1 C2060.3 1115.6 2060.5 1122.0 2060.8 1128.5 C2061.1 1135.0 2061.4 1141.4 2061.7 1147.9 C2062.0 1154.4 2062.3 1160.9 2062.6 1167.3 C2062.9 1173.8 2063.2 1180.3 2063.5 1186.7 C2063.8 1193.2 2064.1 1199.7 2064.4 1206.1 C2064.7 1212.6 2065.0 1219.1 2065.3 1225.6 C2065.6 1232.0 2065.9 1238.5 2066.2 1245.0 C2066.5 1251.4 2066.8 1257.9 2067.1 1264.4 C2067.4 1270.9 2067.7 1277.3 2068.0 1283.8 C2068.3 1290.3 2068.6 1296.7 2068.8 1303.2 C2069.1 1309.7 2069.4 1316.1 2069.7 1322.6 C2069.9 1329.1 2070.2 1335.6 2070.5 1342.0 C2070.7 1348.5 2071.0 1355.0 2071.2 1361.5 C2071.5 1367.9 2071.7 1374.4 2071.9 1380.9 C2072.2 1387.3 2072.4 1393.8 2072.6 1400.3 C2072.8 1406.8 2073.0 1413.2 2073.2 1419.7 C2073.4 1426.2 2073.6 1432.7 2073.7 1439.1 C2073.9 1445.6 2074.1 1452.1 2074.2 1458.6 C2074.4 1465.0 2074.5 1474.8 2074.6 1478.0" stroke-width="15"/><path d="M2191.4 1071.0 C2191.6 1074.2 2192.3 1083.9 2192.7 1090.4 C2193.1 1096.9 2193.5 1103.4 2193.8 1109.8 C2194.1 1116.3 2194.4 1122.8 2194.7 1129.3 C2194.9 1135.7 2195.2 1142.2 2195.3 1148.7 C2195.5 1155.2 2195.7 1161.6 2195.8 1168.1 C2195.9 1174.6 2196.0 1181.0 2196.0 1187.5 C2196.1 1194.0 2196.1 1200.4 2196.1 1206.9 C2196.0 1213.4 2196.0 1219.8 2195.9 1226.3 C2195.8 1232.8 2195.7 1239.2 2195.6 1245.7 C2195.4 1252.1 2195.2 1258.6 2195.0 1265.1 C2194.8 1271.5 2194.6 1278.0 2194.3 1284.4 C2194.1 1290.9 2193.8 1297.3 2193.5 1303.8 C2193.2 1310.3 2192.8 1316.7 2192.5 1323.2 C2192.1 1329.6 2191.7 1336.1 2191.3 1342.5 C2190.9 1349.0 2190.4 1355.4 2190.0 1361.9 C2189.5 1368.3 2189.0 1374.8 2188.5 1381.2 C2188.0 1387.7 2187.5 1394.1 2187.0 1400.6 C2186.5 1407.0 2186.0 1413.5 2185.5 1419.9 C2185.0 1426.3 2184.4 1432.8 2184.0 1439.2 C2183.5 1445.7 2183.0 1452.1 2182.5 1458.6 C2182.1 1465.1 2181.5 1474.7 2181.3 1478.0" stroke-width="15"/><path d="M2226.6 1004.9 L2500.0 1332.0" stroke-width="15"/><circle cx="2058" cy="1030" r="9" fill="#3a2a6e" stroke="none"/></g>
<ellipse cx="2149.5" cy="938.7" rx="88.5" ry="150.5" fill="#ff9400"/></g>
<line x1="1801.2" y1="607.2" x2="1885" y2="720.4" stroke="#b41b00" stroke-width="10"/><polygon points="1909.8,753.7 1868.7,732.3 1901.4,708.5" fill="#b41b00"/>
<path d="M2148.0 643.0 C2153.6 654.6 2170.4 688.6 2181.5 712.6 C2192.6 736.6 2204.9 762.0 2214.8 786.7 C2224.7 811.4 2234.5 836.0 2240.7 860.7 C2246.9 885.4 2250.0 913.2 2251.8 934.8 C2253.7 956.4 2253.7 971.9 2251.8 990.4 C2250.0 1008.9 2246.2 1030.0 2240.7 1046.0 C2235.1 1062.0 2224.4 1076.9 2218.5 1086.7 C2212.6 1096.5 2207.2 1102.0 2205.0 1105.0" fill="none" stroke="#b41b00" stroke-width="17"/><polygon points="2161,1153.3 2188.9,1083 2233.3,1133" fill="#b41b00"/>
<g fill="#b41b00"><rect x="-11" y="-9.5" width="22" height="19" transform="translate(2112.5 1145.0) rotate(-144.9)"/><rect x="-11" y="-9.5" width="22" height="19" transform="translate(2082.0 1123.6) rotate(-144.5)"/><rect x="-11" y="-9.5" width="22" height="19" transform="translate(2050.0 1100.4) rotate(-141.5)"/><rect x="-11" y="-9.5" width="22" height="19" transform="translate(2021.4 1075.4) rotate(-136.5)"/><rect x="-11" y="-9.5" width="22" height="19" transform="translate(1993.6 1046.8) rotate(-131.3)"/><rect x="-11" y="-9.5" width="22" height="19" transform="translate(1969.6 1016.4) rotate(-124.1)"/><rect x="-11" y="-9.5" width="22" height="19" transform="translate(1950.0 982.5) rotate(-116.0)"/><rect x="-11" y="-9.5" width="22" height="19" transform="translate(1935.7 946.8) rotate(-104.2)"/><rect x="-11" y="-9.5" width="22" height="19" transform="translate(1931.0 907.5) rotate(-91.2)"/><rect x="-11" y="-9.5" width="22" height="19" transform="translate(1934.0 868.2) rotate(-79.2)"/><rect x="-11" y="-9.5" width="22" height="19" transform="translate(1945.7 830.7) rotate(-67.5)"/><rect x="-11" y="-9.5" width="22" height="19" transform="translate(1963.6 796.8) rotate(-58.8)"/><rect x="-11" y="-9.5" width="22" height="19" transform="translate(1985.7 764.6) rotate(-51.8)"/><rect x="-11" y="-9.5" width="22" height="19" transform="translate(2011.4 736.0) rotate(-46.3)"/><rect x="-11" y="-9.5" width="22" height="19" transform="translate(2039.3 708.6) rotate(-42.3)"/><rect x="-11" y="-9.5" width="22" height="19" transform="translate(2063.0 689.0) rotate(-39.6)"/></g><polygon points="2128.6,640.7 2048.2,654 2091,712.9" fill="#b41b00"/>
<rect x="2010" y="528" width="220" height="12" fill="#007200"/><polygon points="1969,534 2015,511 2015,557" fill="#007200"/><polygon points="2270,534 2224,511 2224,557" fill="#007200"/>
<rect x="1884" y="556" width="623" height="926" fill="none" stroke="#14284a" stroke-width="14"/>
</svg>
<div class="t ttl" id="title1" style="left:342px;top:12px;transform:scaleX(1.047);">Tachycardie par réentrée intra nodale</div>
<div class="t ttl" id="title2" style="left:628px;top:143px;transform:scaleX(1.044);">(tachycardie de Bouveret)</div>
<div class="t lbl" id="l1" style="left:1475px;top:348px;">Voie de conduction</div>
<div class="t lbl" id="l2" style="left:1513px;top:404px;">supplémentaire</div>
<div class="t lbl" id="l3" style="left:1502px;top:459px;">permettant la ré-</div>
<div class="t lbl" id="l4" style="left:1613px;top:514.5px;">entrée</div>
<div class="t lst" id="n1" style="left:1045px;top:702.2px;">1.</div>
<div class="t lst" id="s1" style="left:1110px;top:702.2px;">L’information électrique</div>
<div class="t lst" id="s2" style="left:1110px;top:769.9px;">passe des oreillettes</div>
<div class="t lst" id="s3" style="left:1110px;top:836.9px;">aux ventricules</div>
<div class="t lst" id="n2" style="left:1044px;top:904.6px;">2.</div>
<div class="t lst" id="s4" style="left:1110px;top:904.6px;">L’information électrique</div>
<div class="t lst" id="s5" style="left:1110px;top:970.9px;">passe des ventricules</div>
<div class="t lst" id="s6" style="left:1110px;top:1038.3px;">aux oreillettes</div>
<div class="t grn" id="g1" style="left:2009px;top:425.5px;">1 à 2 cm</div>
<div class="t red" id="r2" style="left:1834px;top:861.5px;">2</div>
<div class="t red" id="r1" style="left:2311px;top:861.5px;">1</div>
</body></html>
